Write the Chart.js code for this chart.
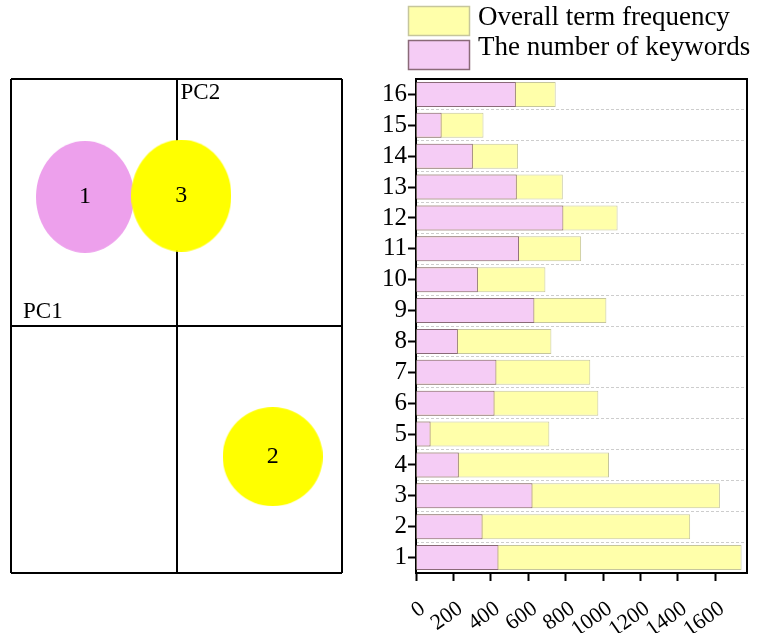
<!DOCTYPE html>
<html>
<head>
<meta charset="utf-8">
<script src="https://cdn.jsdelivr.net/npm/chart.js@4.4.0/dist/chart.umd.min.js"></script>
<style>
html,body{margin:0;padding:0;background:#fff;}
#wrap{position:relative;width:758px;height:637px;overflow:hidden;background:#fff;}
#left{position:absolute;left:0;top:0;width:360px;height:637px;}
#right{position:absolute;left:360px;top:0;width:398px;height:637px;}
</style>
</head>
<body>
<div id="wrap">
  <div id="left"><canvas id="c1"></canvas></div>
  <div id="right"><canvas id="c2"></canvas></div>
</div>
<script>
// ---------- data ----------
const categories = ['1','2','3','4','5','6','7','8','9','10','11','12','13','14','15','16'];
const termFrequency = [1741,1466,1625,1032,713,975,932,724,1018,692,883,1078,785,546,361,747];
const keywordCount  = [441,356,623,229,78,420,430,224,633,331,551,788,539,304,137,534];
const xTickValues   = [0,200,400,600,800,1000,1200,1400,1600];
const seriesNames   = ['Overall term frequency','The number of keywords'];

const clusterLabels = ['1','2','3'];
const pc1Values = [-0.553, 0.581, 0.029];
const pc2Values = [0.523, -0.529, 0.528];
const axisNames = ['PC1','PC2'];

// ---------- styles ----------
const FONT = '"Liberation Serif", "Times New Roman", serif';
Chart.defaults.font.family = FONT;
Chart.defaults.color = '#000';
const clusterColors = ['#EDA0EC', '#FFFF00', '#FFFF00'];
const ellipseSizes = [[98,112],[100,99],[100,112]];
const yellowFill = '#FFFFAA', yellowLine = '#C6C69C';
const pinkFill = '#F5CCF5', pinkLine = '#8A6A78';

function ellipseCanvas(w, h, color) {
  const c = document.createElement('canvas');
  c.width = w; c.height = h;
  const g = c.getContext('2d');
  g.fillStyle = color;
  g.beginPath();
  g.ellipse(w/2, h/2, w/2, h/2, 0, 0, Math.PI*2);
  g.fill();
  return c;
}

// ---------- left: PC quadrant ----------
const quadPlugin = {
  id: 'quadText',
  afterDatasetsDraw(chart) {
    const ctx = chart.ctx;
    const xs = chart.scales.x, ys = chart.scales.y;
    const meta = chart.getDatasetMeta(0);
    ctx.save();
    ctx.fillStyle = '#000';
    ctx.font = '24px ' + FONT;
    ctx.textAlign = 'center';
    ctx.textBaseline = 'middle';
    meta.data.forEach((pt, i) => ctx.fillText(clusterLabels[i], pt.x, pt.y));
    ctx.font = '23px ' + FONT;
    ctx.textAlign = 'left';
    ctx.textBaseline = 'alphabetic';
    ctx.fillText(axisNames[0], chart.chartArea.left + 12, ys.getPixelForValue(0) - 8);
    ctx.fillText(axisNames[1], xs.getPixelForValue(0) + 4, chart.chartArea.top + 20);
    ctx.restore();
  }
};

new Chart(document.getElementById('c1'), {
  type: 'scatter',
  data: {
    datasets: [{
      data: pc1Values.map((x, i) => ({x: x, y: pc2Values[i]})),
      pointStyle: clusterLabels.map((l, i) => ellipseCanvas(ellipseSizes[i][0], ellipseSizes[i][1], clusterColors[i])),
      pointRadius: 50,
      clip: false
    }]
  },
  options: {
    responsive: true,
    maintainAspectRatio: false,
    animation: false,
    events: [],
    layout: {autoPadding: false, padding: {left: 11, top: 79, right: 18, bottom: 64}},
    plugins: {legend: {display: false}, tooltip: {enabled: false}},
    scales: {
      x: {
        type: 'linear', min: -1, max: 1,
        ticks: {display: false, stepSize: 1},
        grid: {color: '#000', lineWidth: 2, drawTicks: false},
        border: {display: false},
        afterFit: s => { s.height = 0; }
      },
      y: {
        type: 'linear', min: -1, max: 1,
        ticks: {display: false, stepSize: 1},
        grid: {color: '#000', lineWidth: 2, drawTicks: false},
        border: {display: false},
        afterFit: s => { s.width = 0; }
      }
    }
  },
  plugins: [quadPlugin]
});

// ---------- right: horizontal bars ----------
const framePlugin = {
  id: 'frameLegend',
  afterDraw(chart) {
    const ctx = chart.ctx;
    const a = chart.chartArea;
    ctx.save();
    ctx.strokeStyle = '#000';
    ctx.lineWidth = 2;
    ctx.beginPath();
    ctx.moveTo(a.left, a.top); ctx.lineTo(a.right, a.top); ctx.lineTo(a.right, a.bottom);
    ctx.stroke();
    // legend
    const items = [
      {text: seriesNames[0], fill: yellowFill, line: yellowLine, y: 6, base: 25},
      {text: seriesNames[1], fill: pinkFill, line: pinkLine, y: 40, base: 55}
    ];
    ctx.font = '27px ' + FONT;
    ctx.textAlign = 'left';
    ctx.textBaseline = 'alphabetic';
    items.forEach(it => {
      ctx.fillStyle = it.fill;
      ctx.fillRect(48, it.y, 62, 30);
      ctx.strokeStyle = it.line;
      ctx.lineWidth = 1.5;
      ctx.strokeRect(48.5, it.y + 0.5, 61, 29);
      ctx.fillStyle = '#000';
      ctx.fillText(it.text, 118, it.base);
    });
    ctx.restore();
  }
};

new Chart(document.getElementById('c2'), {
  type: 'bar',
  data: {
    labels: categories,
    datasets: [
      {label: seriesNames[1], data: keywordCount, backgroundColor: pinkFill, borderColor: pinkLine,
       borderWidth: 1, order: 0, barPercentage: 0.81, categoryPercentage: 1},
      {label: seriesNames[0], data: termFrequency, backgroundColor: yellowFill, borderColor: yellowLine,
       borderWidth: 1, order: 1, barPercentage: 0.81, categoryPercentage: 1}
    ]
  },
  options: {
    indexAxis: 'y',
    responsive: true,
    maintainAspectRatio: false,
    animation: false,
    events: [],
    layout: {padding: {left: 16, right: 11, top: 79, bottom: 4}},
    plugins: {legend: {display: false}, tooltip: {enabled: false}},
    scales: {
      x: {
        type: 'linear', min: 0, max: 1770, stacked: false,
        afterBuildTicks: s => { s.ticks = xTickValues.map(v => ({value: v})); },
        ticks: {font: {size: 22}, color: '#000', minRotation: 35, maxRotation: 35, padding: 15, labelOffset: 7,
                autoSkip: false, callback: v => String(v)},
        grid: {drawOnChartArea: false, drawTicks: true, tickLength: 8, tickColor: '#000', tickWidth: 2},
        border: {color: '#000', width: 2},
        afterFit: s => { s.height = 60; }
      },
      y: {
        type: 'category', stacked: true, reverse: true, offset: true,
        ticks: {font: {size: 25}, color: '#000', padding: 1, autoSkip: false},
        grid: {offset: false, drawOnChartArea: false, drawTicks: true, tickLength: 8, tickColor: '#000', tickWidth: 2},
        border: {color: '#000', width: 2},
        afterFit: s => { s.width = 40; }
      },
      yGrid: {
        type: 'category', position: 'left', reverse: true, offset: true,
        ticks: {display: false},
        grid: {offset: true, drawTicks: false, color: '#CDCDCD', lineWidth: 1},
        border: {display: false, dash: [3, 2]},
        afterFit: s => { s.width = 0; }
      }
    }
  },
  plugins: [framePlugin]
});
</script>
</body>
</html>
